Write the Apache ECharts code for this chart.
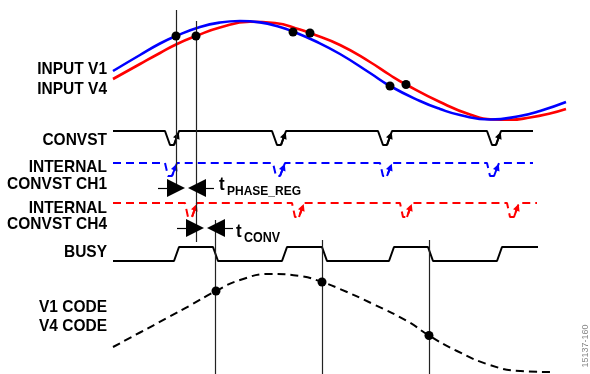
<!DOCTYPE html>
<html><head><meta charset="utf-8">
<script src="https://cdn.jsdelivr.net/npm/echarts@6/dist/echarts.min.js"></script>
<style>html,body{margin:0;padding:0;background:#fff}#c{width:590px;height:374px}</style>
</head><body><div id="c"></div>
<script>
// Input sine waveforms (time, level)
const v1X = [113,140,160,176,200,220,240,260,280,293,315,340,370,390,420,440,460,490,520,540,566];
const v1Y = [71,55,43.5,36,27,22.5,21,22.4,27,31.5,41,54,73,86,101,109,115,119.5,116,111,102];
const v4X = [113,140,160,176,196,220,250,275,300,310,340,370,390,406,440,470,493,510,530,550,566];
const v4Y = [79,64,53,44.5,36,27.5,21.8,23,29.5,33,45,62,75,84.5,102,114.5,119.5,119.8,117.5,113.5,109];
const sampleX = [176,196,293,310,390,406];
const sampleY = [36,36,32,33,86,84.5];
// Digital signals: edge times
const convstFall = [165,272,378,487];
const ch1Fall = [165,273,380,487];
const ch4Fall = [185,292,400,507];
const busyRise = [174,282,389,497];
const busyFall = [213,322,428];
// Output code
const codeX = [113,140,167,190,216,240,270,300,322,340,373,407,429,457,490,520,550];
const codeY = [347,332.5,318,305.5,291,280,274,276,282,289,304,321,335.5,351,365,371,372];
const codeSampleX = [216,322,429];
const codeSampleY = [291,282,335.5];
// Timing markers
const markerX = [176,196,215,322,429];
const markerTop = [10,21,220,240,240];
const markerBottom = [190,242,374,374,374];
const labels = ['INPUT V1','INPUT V4','CONVST','INTERNAL','CONVST CH1','INTERNAL','CONVST CH4','BUSY','V1 CODE','V4 CODE'];
const labelY = [69.5,89.5,140,167,184,208,224,252,307,326];

const zip = (a,b)=>a.map((v,i)=>[v,b[i]]);
function pulses(start,end,H,L,falls,fd,ld,rd){
  const p=[[start,H]];
  falls.forEach(f=>{p.push([f,H],[f+fd,L],[f+fd+ld,L],[f+fd+ld+rd,H]);});
  p.push([end,H]);return p;
}
function arrows(falls,H,L,fd,ld,rd,color){
  return falls.map(f=>({coords:[[f+fd+ld,L],[f+fd+ld+rd*0.7,L-(L-H)*0.7]],lineStyle:{color:color}}));
}
const convst = pulses(113,533,131,145,convstFall,5,4,5);
const ch1 = pulses(113,533,163,176,ch1Fall,3,4,5);
const ch4 = pulses(113,537,203,217,ch4Fall,3,4,5);
const busy=[[113,261]];
busyRise.forEach((r,i)=>{busy.push([r,261],[r+5,247]); if(busyFall[i]!=null) busy.push([busyFall[i],247],[busyFall[i]+5,261]);});
busy.push([538,247]);

const font='"Liberation Sans", Arial, sans-serif';
const chart=echarts.init(document.getElementById('c'));
const graphic=labels.map((t,i)=>({type:'text',x:107,y:labelY[i],scaleY:1.1,style:{text:t,align:'right',verticalAlign:'middle',font:'bold 15.5px '+font,fill:'#000'}}));
graphic.push(
 {type:'text',x:219,y:185.5,scaleY:1.05,style:{text:'t',verticalAlign:'middle',font:'bold 17px '+font,fill:'#000'}},
 {type:'text',x:227,y:191,scaleY:1.1,style:{text:'PHASE_REG',verticalAlign:'middle',font:'bold 12px '+font,fill:'#000'}},
 {type:'text',x:236,y:232.5,scaleY:1.05,style:{text:'t',verticalAlign:'middle',font:'bold 17px '+font,fill:'#000'}},
 {type:'text',x:244,y:238,scaleY:1.1,style:{text:'CONV',verticalAlign:'middle',font:'bold 12.5px '+font,fill:'#000'}},
 {type:'text',x:586,y:346,rotation:Math.PI/2,style:{text:'15137-160',align:'center',verticalAlign:'middle',font:'9px '+font,fill:'#888'}}
);
chart.setOption({
 animation:false,
 grid:{left:0,right:0,top:0,bottom:0},
 xAxis:{type:'value',min:0,max:590,show:false},
 yAxis:{type:'value',min:0,max:374,inverse:true,show:false},
 graphic:graphic,
 series:[
  {type:'line',data:zip(v1X,v1Y),smooth:0.5,showSymbol:false,lineStyle:{color:'#0000ff',width:2.6},z:3},
  {type:'line',data:zip(v4X,v4Y),smooth:0.5,showSymbol:false,lineStyle:{color:'#ff0000',width:2.6},z:2},
  {type:'line',data:convst,showSymbol:false,lineStyle:{color:'#000',width:2}},
  {type:'line',data:ch1,showSymbol:false,lineStyle:{color:'#0000ff',width:2,type:[8,5]}},
  {type:'line',data:ch4,showSymbol:false,lineStyle:{color:'#ff0000',width:2,type:[8,5]}},
  {type:'line',data:busy,showSymbol:false,lineStyle:{color:'#000',width:2}},
  {type:'line',data:zip(codeX,codeY),smooth:0.5,showSymbol:false,lineStyle:{color:'#000',width:2,type:[8,5]}},
  {type:'lines',coordinateSystem:'cartesian2d',symbol:['none','none'],lineStyle:{color:'#222',width:1.2,opacity:1},
   data:markerX.map((x,i)=>({coords:[[x,markerTop[i]],[x,markerBottom[i]]]})),z:4},
  {type:'lines',coordinateSystem:'cartesian2d',symbol:['none','triangle'],symbolSize:7,lineStyle:{width:2,opacity:1},
   data:[].concat(arrows(convstFall,131,145,5,4,5,'#000'),arrows(ch1Fall,163,176,3,4,5,'#0000ff'),arrows(ch4Fall,203,217,3,4,5,'#ff0000'))},
  {type:'lines',coordinateSystem:'cartesian2d',symbol:['none','triangle'],symbolSize:[10,18],lineStyle:{color:'#000',width:1.2,opacity:1},
   data:[{coords:[[158,188],[176,188]]},{coords:[[214,188],[197,188]]},{coords:[[177,228],[195,228]]},{coords:[[233,228],[216,228]]}],z:5},
  {type:'scatter',data:zip(sampleX,sampleY),symbolSize:9,itemStyle:{color:'#000',opacity:1},z:6},
  {type:'scatter',data:zip(codeSampleX,codeSampleY),symbolSize:9,itemStyle:{color:'#000',opacity:1},z:6}
 ]
});
</script></body></html>
